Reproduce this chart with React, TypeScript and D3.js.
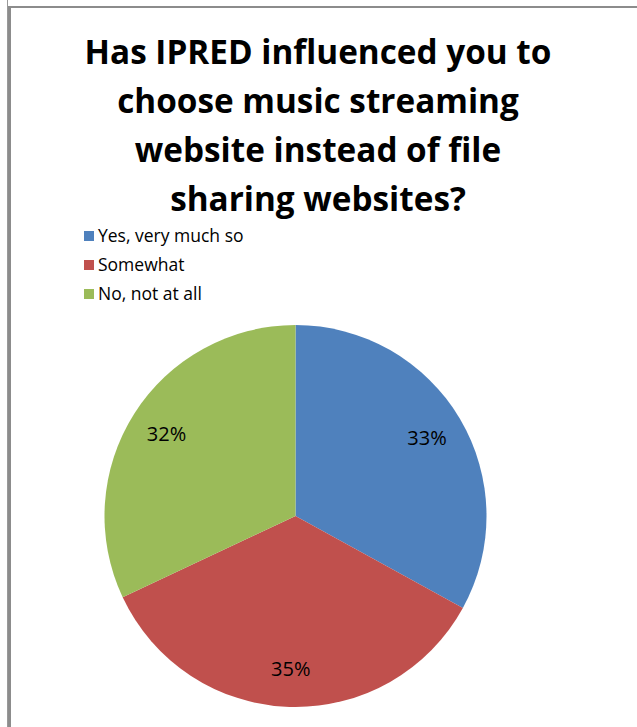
import React from "react";
import * as d3 from "d3";

const categories = ["Yes, very much so", "Somewhat", "No, not at all"];
const values = [33, 35, 32];
const colors = ["#4F81BD", "#C0504D", "#9BBB59"];
const titleLines = [
  "Has IPRED influenced you to",
  "choose music streaming",
  "website instead of file",
  "sharing websites?",
];

export default function App() {
  const W = 637, H = 727;
  const cx = 295.5, cy = 516, r = 191;
  const pie = d3.pie<number>().sort(null).value((d) => d)(values);
  const arc = d3.arc<d3.PieArcDatum<number>>().innerRadius(0).outerRadius(r);
  const labelArc = d3.arc<d3.PieArcDatum<number>>().innerRadius(r * 0.8).outerRadius(r * 0.8);
  const total = d3.sum(values);
  const font = "Open Sans, Liberation Sans, sans-serif";
  return (
    <svg width={W} height={H} style={{ position: "absolute", left: 0, top: 0, background: "#fff" }}>
      <rect x={0} y={0} width={W} height={H} fill="#fff" />
      <line x1={7.5} y1={0} x2={7.5} y2={H} stroke="#999" strokeWidth={1} />
      <rect x={8} y={6} width={3} height={H - 6} fill="#8c8c8c" />
      <rect x={8} y={6} width={W - 8} height={2} fill="#8c8c8c" />
      {titleLines.map((t, i) => (
        <text key={i} x={318} y={64 + i * 49} textAnchor="middle" fontFamily={font} fontWeight="bold" fontSize={33.3} fill="#000">
          {t}
        </text>
      ))}
      {categories.map((c, i) => (
        <g key={c} transform={`translate(84, ${231 + i * 29})`}>
          <rect x={0} y={0} width={10} height={10} fill={colors[i]} />
          <text x={14} y={11} fontFamily={font} fontSize={17.5} fill="#000">{c}</text>
        </g>
      ))}
      <g transform={`translate(${cx}, ${cy})`}>
        {pie.map((p, i) => (
          <path key={i} d={arc(p) || ""} fill={colors[i]} />
        ))}
        {pie.map((p, i) => {
          const [lx, ly] = labelArc.centroid(p);
          return (
            <text key={"l" + i} x={lx} y={ly} dy="0.35em" textAnchor="middle" fontFamily={font} fontSize={20} fill="#000">
              {Math.round((p.value / total) * 100)}%
            </text>
          );
        })}
      </g>
    </svg>
  );
}
